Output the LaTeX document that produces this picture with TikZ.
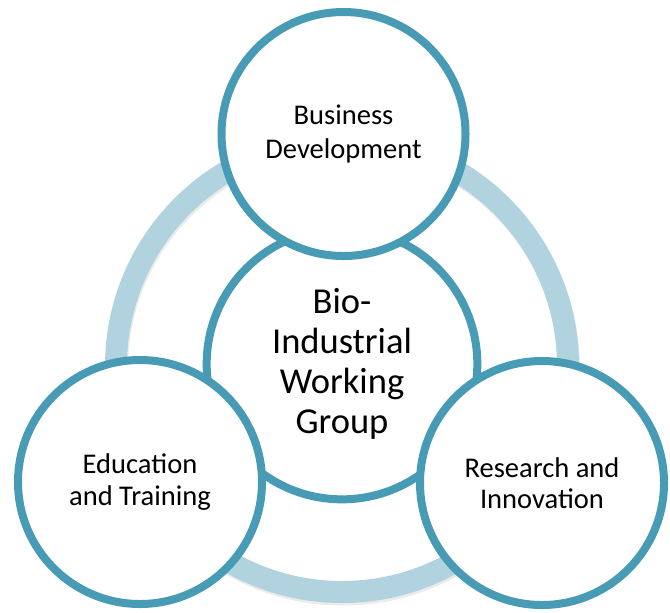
\documentclass[tikz,border=0pt]{standalone}
\usepackage{fontspec}
\setmainfont{Carlito}
\usetikzlibrary{shadows}
\definecolor{ringblue}{RGB}{176,211,223}
\definecolor{edgeteal}{RGB}{72,155,180}

\begin{document}
\begin{tikzpicture}[x=0.75pt,y=0.75pt,yscale=-1,xscale=1,
  bubble/.style={circle,draw=edgeteal,line width=6pt,fill=white,align=center,inner sep=0pt,
    minimum size=183pt,font=\fontsize{21.4}{23.5}\selectfont,
    drop shadow={opacity=0.22,shadow xshift=0.8pt,shadow yshift=-1.6pt}},
  hub/.style={bubble,minimum size=203pt,font=\fontsize{27.4}{30}\selectfont}]
\useasboundingbox (0,0) rectangle (670,612);

%Shape: Ring [shadow]
\draw [line width=16.5pt, black, opacity=0.08] (343,368.5) circle [radius=169.5pt] ;
%Shape: Ring
\draw [line width=16.5pt, ringblue] (342,366) circle [radius=169.5pt] ;

%Shape: Circle (centre)
\node [hub] (bwg) at (342,364) {Bio-\\Industrial\\Working\\Group};
%Shape: Circle (top)
\node [bubble, font=\fontsize{21.4}{25.5}\selectfont] (busdev) at (343.5,134) {Business\\Development};
%Shape: Circle (left)
\node [bubble] (edutrain) at (140,482) {Education\\and Training};
%Shape: Circle (right)
\node [bubble] (resinno) at (542,483) {Research and\\Innovation};

\end{tikzpicture}
\end{document}
